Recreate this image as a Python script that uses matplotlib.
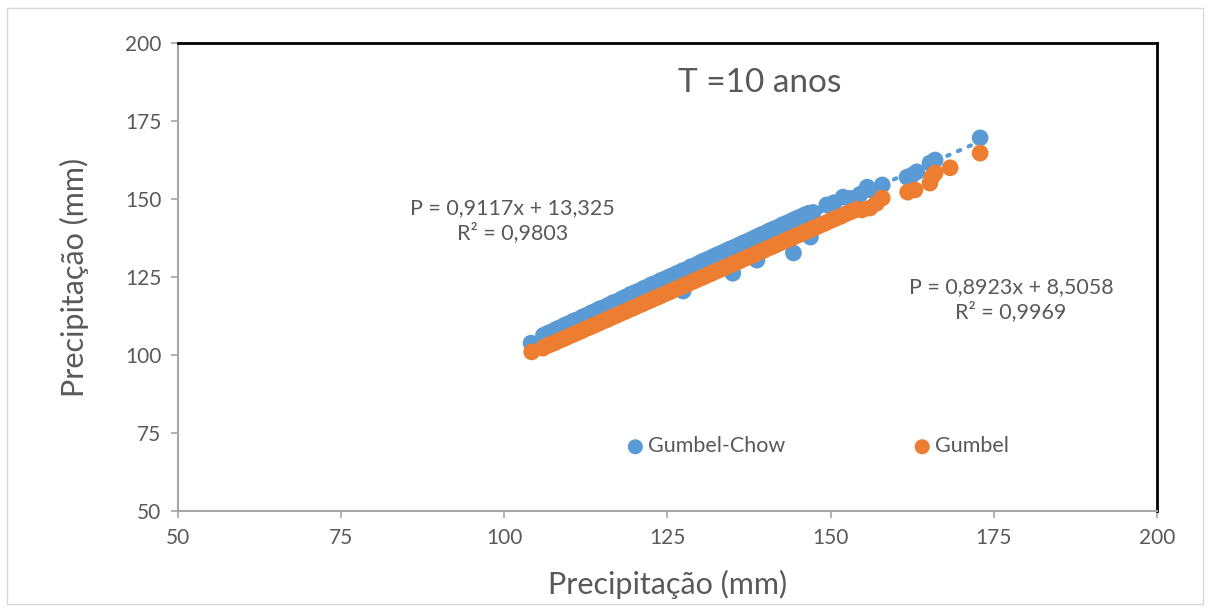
import numpy as np
import matplotlib
matplotlib.use('Agg')
import matplotlib.pyplot as plt
from matplotlib.patches import Rectangle

plt.rcParams['font.family'] = ['Lato', 'DejaVu Sans']

# Gumbel-Chow (blue) points
chow_x = [104.1, 106.0, 106.7, 107.3, 108.0, 108.6, 109.3, 110.0, 110.6, 111.3,
          112.0, 112.6, 113.3, 114.0, 114.6, 115.3, 116.0, 116.6, 117.3, 118.0,
          118.6, 119.3, 120.0, 120.6, 121.3, 122.0, 122.6, 123.3, 124.0, 124.6,
          125.3, 126.0, 126.6, 127.3, 128.0, 128.6, 129.3, 130.0, 130.6, 131.3,
          132.0, 132.6, 133.3, 134.0, 134.6, 135.3, 136.0, 136.6, 137.3, 138.0,
          138.6, 139.3, 140.0, 140.6, 141.3, 142.0, 142.6, 143.3, 144.0, 144.6,
          145.3, 146.0, 146.6, 147.3, 149.4, 150.5, 151.9, 153.0, 154.5, 155.6,
          156.5, 157.9, 161.7, 162.5, 163.2, 165.2, 166.0, 172.9,
          127.4, 135.0, 138.7, 144.3, 146.9]
chow_y = [103.8, 106.3, 107.0, 107.5, 108.3, 108.8, 109.6, 110.2, 110.9, 111.4,
          112.2, 112.7, 113.5, 114.1, 114.8, 115.3, 116.0, 116.7, 117.2, 118.0,
          118.6, 119.4, 120.0, 120.5, 121.3, 121.9, 122.6, 123.1, 123.9, 124.4,
          125.1, 125.7, 126.3, 127.0, 127.5, 128.3, 128.8, 129.6, 130.2, 130.8,
          131.5, 132.1, 132.7, 133.4, 134.0, 134.6, 135.3, 135.9, 136.5, 137.2,
          137.8, 138.5, 139.1, 139.8, 140.4, 141.0, 141.7, 142.3, 143.0, 143.6,
          144.2, 144.9, 145.4, 145.7, 148.1, 148.8, 150.6, 150.2, 151.5, 153.8,
          152.6, 154.5, 157.0, 157.7, 158.7, 161.5, 162.5, 169.6,
          120.5, 126.2, 130.4, 132.7, 137.8]

# Gumbel (orange) points
gum_x = [104.2, 105.9, 106.5, 107.2, 107.8, 108.5, 109.2, 109.8, 110.5, 111.2,
         111.8, 112.5, 113.2, 113.8, 114.5, 115.2, 115.8, 116.5, 117.2, 117.8,
         118.5, 119.2, 119.8, 120.5, 121.2, 121.8, 122.5, 123.2, 123.8, 124.5,
         125.2, 125.8, 126.5, 127.2, 127.8, 128.5, 129.2, 129.8, 130.5, 131.2,
         131.8, 132.5, 133.2, 133.8, 134.5, 135.2, 135.8, 136.5, 137.2, 137.8,
         138.5, 139.2, 139.8, 140.5, 141.2, 141.8, 142.5, 143.2, 143.8, 144.5,
         145.2, 145.8, 146.5, 147.2, 147.8, 148.5, 149.2, 150.0, 150.8, 151.6,
         152.4, 153.2, 154.0, 154.8, 156.0, 157.0, 157.9, 161.8, 162.9, 165.2,
         165.5, 166.0, 168.3, 172.9]
gum_y = [101.0, 102.2, 102.9, 103.5, 104.0, 104.7, 105.3, 105.9, 106.5, 107.2,
         107.7, 108.4, 109.0, 109.6, 110.2, 110.9, 111.4, 112.1, 112.7, 113.3,
         113.9, 114.6, 115.1, 115.8, 116.4, 117.0, 117.6, 118.3, 118.8, 119.5,
         120.1, 120.7, 121.3, 122.0, 122.5, 123.2, 123.8, 124.4, 125.0, 125.7,
         126.2, 126.9, 127.5, 128.1, 128.7, 129.4, 129.9, 130.6, 131.2, 131.8,
         132.4, 133.1, 133.6, 134.3, 134.9, 135.5, 136.1, 136.8, 137.3, 138.0,
         138.6, 139.2, 139.8, 140.5, 141.0, 141.7, 142.3, 143.1, 143.8, 144.5,
         145.3, 146.0, 146.7, 146.5, 147.1, 148.6, 150.3, 152.2, 152.9, 155.1,
         157.0, 158.3, 160.0, 164.7]

eq_chow = 'P = 0,9117x + 13,325\nR² = 0,9803'
eq_gum = 'P = 0,8923x + 8,5058\nR² = 0,9969'
title = 'T =10 anos'
ticks = [50, 75, 100, 125, 150, 175, 200]

blue = '#5B9BD5'
orange = '#ED7D31'
grey = '#595959'

fig = plt.figure(figsize=(12.09, 6.10), dpi=100)
fig.patches.append(Rectangle((0.006, 0.01), 0.989, 0.977, transform=fig.transFigure,
                             fill=False, edgecolor='#D9D9D9', linewidth=1))
ax = fig.add_axes([0.1472, 0.1623, 0.8098, 0.7672])

# trendline for Gumbel-Chow, dotted
cx = np.array(chow_x)
coef = np.polyfit(cx, np.array(chow_y), 1)
tx = np.array([cx.min(), cx.max()])
ax.plot(tx, np.polyval(coef, tx), color=blue, linestyle=(0, (0.6, 2.2)),
        linewidth=3, dash_capstyle='round', zorder=1)

ax.scatter(chow_x, chow_y, s=145, color=blue, edgecolors='none', label='Gumbel-Chow', zorder=2)
ax.scatter(gum_x, gum_y, s=145, color=orange, edgecolors='none', label='Gumbel', zorder=3)

ax.set_xlim(50, 200)
ax.set_ylim(50, 200)
ax.set_xticks(ticks)
ax.set_yticks(ticks)
ax.tick_params(colors='#A6A6A6', labelcolor=grey, labelsize=15, length=5, width=1.2, pad=7)

for s in ['left', 'bottom']:
    ax.spines[s].set_color('#A6A6A6')
    ax.spines[s].set_linewidth(1.5)
for s in ['top', 'right']:
    ax.spines[s].set_color('black')
    ax.spines[s].set_linewidth(2)

ax.set_xlabel('Precipitação (mm)', fontsize=22, color=grey, labelpad=16)
ax.set_ylabel('Precipitação (mm)', fontsize=22, color=grey, labelpad=26)

ax.text(0.594, 0.915, title, transform=ax.transAxes, fontsize=24, color=grey,
        ha='center', va='center')
ax.text(0.342, 0.62, eq_chow, transform=ax.transAxes, fontsize=15.5, color=grey,
        ha='center', va='center', linespacing=1.25)
ax.text(0.851, 0.451, eq_gum, transform=ax.transAxes, fontsize=15.5, color=grey,
        ha='center', va='center', linespacing=1.25)

ax.legend(loc='center', bbox_to_anchor=(0.647, 0.138), ncol=2, frameon=False,
          fontsize=15.5, labelcolor=grey, handletextpad=-0.4, columnspacing=5.35,
          scatterpoints=1, markerscale=0.9)

fig.savefig('out.png', dpi=100)
